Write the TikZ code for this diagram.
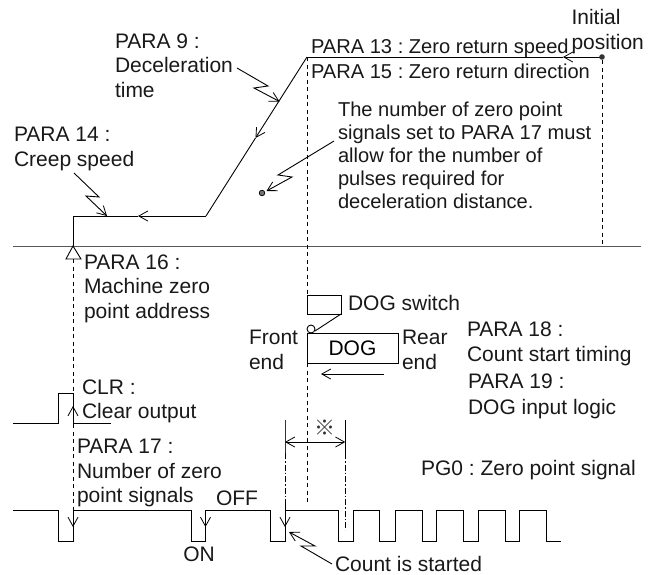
\documentclass[tikz,border=0pt]{standalone}
\usepackage{fontspec}
\setmainfont{Liberation Sans}
\newfontfamily\cjkfont{Noto Sans CJK JP}
\usetikzlibrary{arrows.meta}
\frenchspacing
\tikzset{
  x=1pt,y=-1pt,
  wire/.style={line width=0.9pt,black},
  barb/.style={wire,-{Straight Barb[length=9pt,width=10pt,line width=0.8pt]}},
  dbarb/.style={wire,{Straight Barb[length=9pt,width=10pt,line width=0.8pt]}-{Straight Barb[length=9pt,width=10pt,line width=0.8pt]}},
  guide/.style={line width=0.8pt,dash pattern=on 4pt off 3.5pt},
  dashdot/.style={line width=0.7pt,dash pattern=on 6pt off 2pt on 1.5pt off 2pt},
  lbl/.style={anchor=base west,inner sep=0pt,outer sep=0pt,font=\fontsize{21pt}{24pt}\selectfont,text=black!90},
  lbls/.style={lbl,font=\fontsize{20.1pt}{24pt}\selectfont},
  lblc/.style={lbl,anchor=base},
  axisline/.style={line width=1pt,black!65},
}
\begin{document}
\begin{tikzpicture}
\useasboundingbox (0,0) rectangle (662,574);
\fill[white] (0,0) rectangle (662,574);
% axis
\draw[axisline] (13,246) -- (641,246);
% guides
\draw[guide] (73,259) -- (73,525);
\draw[guide] (307,57) -- (307,295);
\draw[guide] (307,363) -- (307,505);
\draw[guide] (602,60) -- (602,246);
% speed profile
\coordinate (org) at (73,246);
\coordinate (cr) at (73,216);
\coordinate (brk) at (206,216);
\coordinate (top) at (307,57);
\coordinate (ini) at (602,57);
\coordinate (aa) at (563,57);
\coordinate (ab) at (255.5,138);
\coordinate (ac) at (138,216);
\draw[barb] (ini) -- (aa);
\draw[wire,line join=miter] (aa) -- (top);
\draw[barb] (top) -- (ab);
\draw[wire] (ab) -- (brk);
\draw[barb] (brk) -- (ac);
\draw[wire,line join=miter] (ac) -- (cr) -- (org);
\draw[wire,fill=white] (org) -- (66,259) -- (81,259) -- cycle;
\fill[black!80] (ini) circle (2.8);
\draw[line width=0.7pt,fill=black!55] (262,193) circle (2.8);
% zigzag leaders
\draw[barb] (237,68) -- (268,86) -- (254,88) -- (279.5,101.5);
\draw[barb] (74,173) -- (99,197) -- (86,196) -- (107,216);
\draw[barb] (334,141) -- (278,175) -- (292,177) -- (266.5,191);
\draw[barb] (332,564) -- (301,546) -- (315,546) -- (289,532);
% CLR
\draw[wire] (13,423) -- (58,423) -- (58,393) -- (73,393) -- (73,423) -- (111,423);
\draw[barb] (73,425) -- (73,406);
% PG0
\draw[wire] (13,510) -- (58,510) -- (58,541) -- (73,541) -- (73,510)
 -- (191,510) -- (191,541) -- (205.5,541) -- (205.5,510)
 -- (270,510) -- (270,541) -- (285,541) -- (285,510)
 -- (338,510) -- (338,541) -- (353,541) -- (353,510)
 -- (379,510) -- (379,541) -- (395,541) -- (395,510)
 -- (422,510) -- (422,541) -- (436,541) -- (436,510)
 -- (463,510) -- (463,541) -- (478,541) -- (478,510)
 -- (505,510) -- (505,541) -- (519,541) -- (519,510)
 -- (546,510) -- (546,541) -- (561,541);
\draw[barb] (73,510) -- (73,527);
\draw[barb] (205.5,510) -- (205.5,527);
\draw[barb] (285,505) -- (285,527);
% DOG
\draw[wire] (307,295) rectangle (341,314);
\draw[wire] (341,314) -- (315,331);
\node[draw=black,line width=0.9pt,minimum width=91pt,minimum height=30pt,inner sep=0pt,font=\fontsize{21pt}{24pt}\selectfont] (dog) at (352.5,348) {DOG};
\draw[wire,fill=white] (311,329) circle (4);
\draw[barb] (384,374) -- (321,374);
% dimension
\draw[line width=1pt,black!80] (285,420) -- (285,453);
\draw[wire] (345.3,420) -- (345.3,453);
\draw[dashdot] (285,453) -- (285,505);
\draw[dashdot] (345.3,453) -- (345.3,530);
\draw[dbarb] (285,442) -- (345.3,442);
\node[inner sep=0pt,font=\cjkfont\fontsize{21pt}{21pt}\selectfont,text=black!80] (mark) at (324.5,428) {※};
% labels
\node[lbl] (p9) at (115,48) {PARA 9 :};
\node[lbl] (p9b) at (115,72) {Deceleration};
\node[lbl] (p9c) at (115,97) {time};
\node[lbl] (p14) at (14,141) {PARA 14 :};
\node[lbl] (p14b) at (14,166) {Creep speed};
\node[lbls] (p13) at (311,53) {PARA 13 : Zero return speed};
\node[lbls] (p15) at (311,78) {PARA 15 : Zero return direction};
\node[lbl] (ia) at (571.5,24) {Initial};
\node[lbl] (ib) at (571.5,49) {position};
\node[lbls] (n1) at (338,116) {The number of zero point};
\node[lbls] (n2) at (338,139) {signals set to PARA 17 must};
\node[lbls] (n3) at (338,162) {allow for the number of};
\node[lbls] (n4) at (338,185) {pulses required for};
\node[lbls] (n5) at (338,208) {deceleration distance.};
\node[lbl] (p16) at (84,269) {PARA 16 :};
\node[lbl] (p16b) at (84,293) {Machine zero};
\node[lbl] (p16c) at (84,318) {point address};
\node[lbl] (sw) at (348,310) {DOG switch};
\node[lbl] (fa) at (249,344) {Front};
\node[lbl] (fb) at (249,369) {end};
\node[lbl] (ra) at (402,344) {Rear};
\node[lbl] (rb) at (402,369) {end};
\node[lbl] (p18) at (467,336) {PARA 18 :};
\node[lbl] (p18b) at (467,361) {Count start timing};
\node[lbl] (p19) at (468,388) {PARA 19 :};
\node[lbl] (p19b) at (468,414) {DOG input logic};
\node[lbl] (clr) at (82,394) {CLR :};
\node[lbl] (clrb) at (82,418) {Clear output};
\node[lbl] (p17) at (77,453) {PARA 17 :};
\node[lbl] (p17b) at (77,478) {Number of zero};
\node[lbl] (p17c) at (77,502) {point signals};
\node[lbl] (off) at (216,505) {OFF};
\node[lblc] (on) at (199,561) {ON};
\node[lbl] (pg) at (421,475) {PG0 : Zero point signal};
\node[lbl] (cs) at (335,571) {Count is started};
\end{tikzpicture}
\end{document}
